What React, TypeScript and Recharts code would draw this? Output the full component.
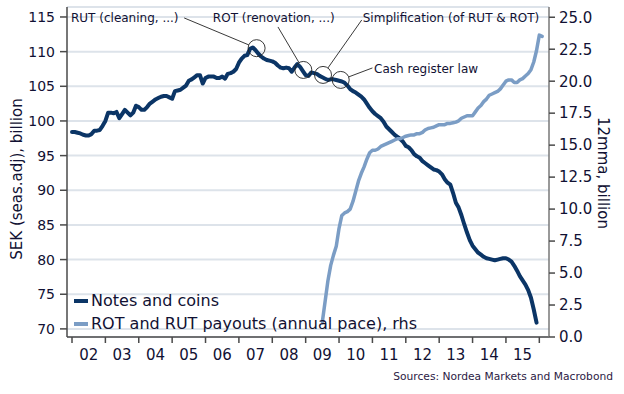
import React from "react";
import {
  LineChart,
  Line,
  XAxis,
  YAxis,
  CartesianGrid,
  Legend,
  ReferenceDot,
  ReferenceLine,
} from "recharts";

// ---- Data (monthly) ----
const START_YEAR = 2002; // first month of notes & coins: Jan 2002
const ROT_START_MONTH = 90; // months after Jan 2002 (Jul 2009)

const NOTES_AND_COINS = [
  // 2002
  98.4, 98.4, 98.3, 98.2, 98.0, 97.9, 97.9, 98.1, 98.6, 98.6, 98.7, 99.3,
  // 2003
  100.0, 101.2, 101.2, 101.1, 101.3, 100.4, 101.0, 101.6, 101.2, 100.8, 101.2, 102.2,
  // 2004
  102.0, 101.6, 101.6, 102.0, 102.5, 102.8, 103.1, 103.3, 103.5, 103.6, 103.6, 103.4,
  // 2005
  103.2, 104.3, 104.4, 104.5, 104.8, 105.1, 105.8, 106.0, 106.3, 106.6, 106.6, 105.4,
  // 2006
  106.2, 106.4, 106.4, 106.4, 106.2, 106.2, 106.4, 106.1, 106.8, 106.9, 107.1, 107.5,
  // 2007
  108.4, 109.0, 109.4, 109.5, 110.4, 110.6, 110.2, 109.7, 109.3, 109.0, 108.8, 108.7,
  // 2008
  108.6, 108.4, 108.0, 107.7, 107.6, 107.7, 107.6, 107.1, 107.7, 108.2, 107.8, 107.2,
  // 2009
  106.6, 106.5, 107.0, 106.9, 106.8, 106.5, 106.3, 106.1, 105.9, 106.0, 106.0, 105.9,
  // 2010
  105.8, 105.7, 105.5, 105.1, 104.6, 104.3, 104.1, 103.8, 103.5, 103.1, 102.5, 101.9,
  // 2011
  101.4, 101.0, 100.7, 100.4, 99.9, 99.2, 98.8, 98.4, 98.0, 97.7, 97.4, 97.0,
  // 2012
  96.4, 96.2, 95.8, 95.2, 94.9, 94.7, 94.2, 93.9, 93.6, 93.3, 93.0, 92.9,
  // 2013
  92.7, 92.3, 91.6, 91.1, 90.8, 89.6, 88.2, 87.5, 86.4, 85.1, 83.9, 82.8,
  // 2014
  82.0, 81.5, 81.0, 80.7, 80.4, 80.2, 80.1, 80.0, 79.9, 80.0, 80.1, 80.2,
  // 2015
  80.2, 80.0, 79.7, 79.1, 78.4, 77.6, 77.0, 76.4, 75.6, 74.5, 72.8, 70.9,
];

const ROT_RUT_PAYOUTS = [
  // 2009 (Jul-Dec)
  1.2, 2.8, 4.4, 5.6, 6.4, 7.1,
  // 2010
  8.5, 9.5, 9.7, 9.8, 10.0, 10.6, 11.4, 12.2, 12.8, 13.3, 13.9, 14.4,
  // 2011
  14.6, 14.6, 14.7, 14.9, 15.0, 15.1, 15.2, 15.3, 15.4, 15.5, 15.5, 15.6,
  // 2012
  15.7, 15.75, 15.8, 15.8, 15.9, 15.9, 16.0, 16.2, 16.3, 16.35, 16.4, 16.5,
  // 2013
  16.6, 16.6, 16.6, 16.7, 16.7, 16.75, 16.8, 16.9, 17.1, 17.2, 17.3, 17.3,
  // 2014
  17.3, 17.6, 17.9, 18.1, 18.4, 18.6, 18.9, 19.0, 19.1, 19.2, 19.4, 19.7,
  // 2015
  20.0, 20.1, 20.1, 19.9, 19.9, 20.1, 20.2, 20.4, 20.6, 20.9, 21.5, 22.4,
  // 2016
  23.6, 23.5,
];

const SERIES_NAMES = ["Notes and coins", "ROT and RUT payouts (annual pace), rhs"];
const SERIES_COLORS = ["#0b3566", "#7b9dc5"];

const YEAR_TICKS = [2002, 2003, 2004, 2005, 2006, 2007, 2008, 2009, 2010, 2011, 2012, 2013, 2014, 2015, 2016];
const YEAR_LABELS = ["02", "03", "04", "05", "06", "07", "08", "09", "10", "11", "12", "13", "14", "15", ""];
const LEFT_TICKS = [70, 75, 80, 85, 90, 95, 100, 105, 110, 115];
const RIGHT_TICKS = [0, 2.5, 5, 7.5, 10, 12.5, 15, 17.5, 20, 22.5, 25];

const LEFT_TITLE = "SEK (seas.adj), billion";
const RIGHT_TITLE = "12mma, billion";
const SOURCE = "Sources: Nordea Markets and Macrobond";

const ANNOTATIONS = [
  { text: "RUT (cleaning, ...)", t: 2007.53, v: 110.5, lineT: 2005.36, lineV: 114.86, textT: 2001.97, textV: 114.86 },
  { text: "ROT (renovation, ...)", t: 2008.93, v: 107.36, lineT: 2008.17, lineV: 113.56, textT: 2006.22, textV: 114.86 },
  { text: "Simplification (of RUT & ROT)", t: 2009.52, v: 106.64, lineT: 2010.68, lineV: 114.57, textT: 2010.71, textV: 114.86 },
  { text: "Cash register law", t: 2010.05, v: 105.92, lineT: 2011.0, lineV: 107.65, textT: 2011.05, textV: 107.5 },
];

// ---- Layout / style ----
const W = 624;
const H = 394;
const X_DOMAIN: [number, number] = [2001.85, 2016.29];
const LEFT_DOMAIN: [number, number] = [68.83, 116.44];
const RIGHT_DOMAIN: [number, number] = [0, 25.8];
const LEFT_AXIS_W = 67;
const RIGHT_AXIS_W = 75;
const PLOT_W = W - LEFT_AXIS_W - RIGHT_AXIS_W;
const HALF_YEAR_PX = (PLOT_W / (X_DOMAIN[1] - X_DOMAIN[0])) * 0.5;
const CIRCLE_R = 8.5;
const FONT = "'DejaVu Sans', Verdana, sans-serif";
const TEXT = "#111133";
const AXIS = "#4a4a4a";

const rows: { t: number; notes?: number; rot?: number }[] = [];
const totalMonths = Math.max(NOTES_AND_COINS.length, ROT_START_MONTH + ROT_RUT_PAYOUTS.length);
for (let m = 0; m < totalMonths; m++) {
  const row: { t: number; notes?: number; rot?: number } = { t: START_YEAR + m / 12 };
  if (m < NOTES_AND_COINS.length) row.notes = NOTES_AND_COINS[m];
  const r = m - ROT_START_MONTH;
  if (r >= 0 && r < ROT_RUT_PAYOUTS.length) row.rot = ROT_RUT_PAYOUTS[r];
  rows.push(row);
}

const YearTick = (props: any) => {
  const { x, y, payload } = props;
  const idx = YEAR_TICKS.indexOf(payload.value);
  const label = idx >= 0 ? YEAR_LABELS[idx] : "";
  if (!label) return null;
  return (
    <text x={x + HALF_YEAR_PX} y={y} dy="0.71em" textAnchor="middle" fill={TEXT} fontSize={15} fontFamily={FONT}>
      {label}
    </text>
  );
};

const Leader = (props: any) => {
  const { x1, y1, x2, y2 } = props;
  const dx = x2 - x1;
  const dy = y2 - y1;
  const len = Math.hypot(dx, dy) || 1;
  const k = (len - CIRCLE_R) / len;
  return <line x1={x1} y1={y1} x2={x1 + dx * k} y2={y1 + dy * k} stroke="#222" strokeWidth={0.9} />;
};

const makeTextShape = (text: string) => (props: any) => (
  <text x={props.cx} y={props.cy} dominantBaseline="central" fill={TEXT} fontSize={12} fontFamily={FONT}>
    {text}
  </text>
);

const LegendContent = (props: any) => {
  const { payload } = props;
  return (
    <div style={{ fontFamily: FONT, fontSize: 16, color: TEXT }}>
      {(payload || []).map((p: any) => (
        <div key={p.value} style={{ display: "flex", alignItems: "center", height: 23, whiteSpace: "nowrap" }}>
          <span style={{ display: "inline-block", width: 14, height: 4, background: p.color, marginRight: 3 }} />
          {p.value}
        </div>
      ))}
    </div>
  );
};

export default function App() {
  return (
    <div style={{ position: "absolute", left: 0, top: 0, width: W, height: H, background: "#fff" }}>
      <LineChart width={W} height={H} data={rows} margin={{ top: 7, right: 0, bottom: 0, left: 0 }}>
        <CartesianGrid yAxisId="left" vertical={false} stroke="#dde3ea" strokeWidth={2} />
        <XAxis
          dataKey="t"
          type="number"
          domain={X_DOMAIN}
          allowDataOverflow
          ticks={YEAR_TICKS}
          interval={0}
          height={57}
          tickSize={6}
          tickMargin={6}
          tick={<YearTick />}
          tickLine={{ stroke: AXIS, strokeWidth: 1.5 }}
          axisLine={{ stroke: AXIS, strokeWidth: 1.5 }}
        />
        <YAxis
          yAxisId="left"
          orientation="left"
          width={LEFT_AXIS_W}
          domain={LEFT_DOMAIN}
          allowDataOverflow
          ticks={LEFT_TICKS}
          interval={0}
          tickSize={7}
          tickMargin={5}
          tick={{ fill: TEXT, fontSize: 14, fontFamily: FONT }}
          tickLine={{ stroke: AXIS, strokeWidth: 1.5 }}
          axisLine={{ stroke: AXIS, strokeWidth: 1.5 }}
          label={{
            content: (p: any) => {
              const vb = p.viewBox || {};
              const cx = vb.x + 17;
              const cy = vb.y + vb.height / 2 + 7;
              return (
                <text
                  x={cx}
                  y={cy}
                  transform={`rotate(-90 ${cx} ${cy})`}
                  textAnchor="middle"
                  dominantBaseline="central"
                  fill={TEXT}
                  fontSize={15}
                  fontFamily={FONT}
                >
                  {LEFT_TITLE}
                </text>
              );
            },
          }}
        />
        <YAxis
          yAxisId="right"
          orientation="right"
          width={RIGHT_AXIS_W}
          domain={RIGHT_DOMAIN}
          allowDataOverflow
          ticks={RIGHT_TICKS}
          interval={0}
          tickSize={6}
          tickMargin={4}
          tickFormatter={(v: number) => v.toFixed(1)}
          tick={{ fill: TEXT, fontSize: 15, fontFamily: FONT }}
          tickLine={{ stroke: AXIS, strokeWidth: 1.5 }}
          axisLine={{ stroke: "#777", strokeWidth: 1.5 }}
          label={{
            content: (p: any) => {
              const vb = p.viewBox || {};
              const cx = vb.x + 54;
              const cy = vb.y + vb.height / 2 + 1;
              return (
                <text
                  x={cx}
                  y={cy}
                  transform={`rotate(90 ${cx} ${cy})`}
                  textAnchor="middle"
                  dominantBaseline="central"
                  fill={TEXT}
                  fontSize={15}
                  fontFamily={FONT}
                >
                  {RIGHT_TITLE}
                </text>
              );
            },
          }}
        />
        <Line
          yAxisId="left"
          dataKey="notes"
          name={SERIES_NAMES[0]}
          stroke={SERIES_COLORS[0]}
          strokeWidth={4}
          dot={false}
          activeDot={false}
          isAnimationActive={false}
          strokeLinejoin="round"
          strokeLinecap="round"
        />
        <Line
          yAxisId="right"
          dataKey="rot"
          name={SERIES_NAMES[1]}
          stroke={SERIES_COLORS[1]}
          strokeWidth={3.5}
          dot={false}
          activeDot={false}
          isAnimationActive={false}
          strokeLinejoin="round"
          strokeLinecap="round"
        />
        {ANNOTATIONS.map((a) => (
          <ReferenceLine
            key={"l" + a.text}
            yAxisId="left"
            segment={[
              { x: a.lineT, y: a.lineV },
              { x: a.t, y: a.v },
            ]}
            shape={Leader}
          />
        ))}
        {ANNOTATIONS.map((a) => (
          <ReferenceDot
            key={"c" + a.text}
            yAxisId="left"
            x={a.t}
            y={a.v}
            r={CIRCLE_R}
            fill="none"
            stroke="#222"
            strokeWidth={0.9}
          />
        ))}
        {ANNOTATIONS.map((a) => (
          <ReferenceDot
            key={"t" + a.text}
            yAxisId="left"
            x={a.textT}
            y={a.textV}
            r={1}
            shape={makeTextShape(a.text)}
          />
        ))}
        <Legend
          layout="vertical"
          verticalAlign="middle"
          align="center"
          content={<LegendContent />}
          wrapperStyle={{ left: 74, top: 289, width: "auto" }}
        />
      </LineChart>
      <div
        style={{
          position: "absolute",
          right: 11,
          top: 371,
          fontFamily: FONT,
          fontSize: 10.7,
          lineHeight: "12px",
          color: "#2b1a44",
          whiteSpace: "nowrap",
        }}
      >
        {SOURCE}
      </div>
    </div>
  );
}
